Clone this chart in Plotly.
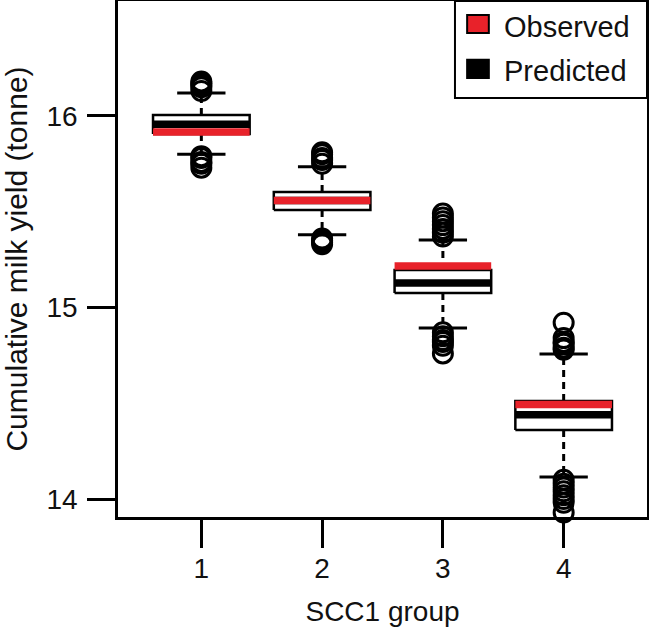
import plotly.graph_objects as go

# SCC1 groups on the x axis
groups = [1, 2, 3, 4]

# predicted distribution (box summary, tonne)
pred_lower = [15.800, 15.380, 14.893, 14.115]
pred_q1 = [15.905, 15.509, 15.076, 14.360]
pred_median = [15.956, 15.558, 15.128, 14.440]
pred_q3 = [16.005, 15.603, 15.196, 14.512]
pred_upper = [16.120, 15.734, 15.352, 14.757]

# observed value per group
observed = [15.916, 15.558, 15.217, 14.494]

# outlying predictions per group
outliers = [
    [16.13, 16.15, 16.16, 16.17, 16.18, 15.79, 15.78, 15.76, 15.75, 15.73],
    [15.75, 15.77, 15.78, 15.80, 15.81, 15.36, 15.35, 15.34, 15.33],
    [15.49, 15.47, 15.45, 15.43, 15.41, 15.39, 15.37,
     14.87, 14.85, 14.83, 14.82, 14.80, 14.76],
    [14.92, 14.84, 14.82, 14.81, 14.79, 14.78,
     14.10, 14.08, 14.06, 14.04, 14.02, 14.00, 13.98, 13.93],
]

RED = "#e8222a"
FONT = "Liberation Sans, Arial, Helvetica, sans-serif"
half = 0.4     # half box width
staple = 0.2   # half staple width

# build the line pieces from the summary arrays
box_x, box_y = [], []
med_x, med_y = [], []
obs_x, obs_y = [], []
wh_x, wh_y = [], []
st_x, st_y = [], []
out_x, out_y = [], []
for i, g in enumerate(groups):
    box_x += [g - half, g + half, g + half, g - half, g - half, None]
    box_y += [pred_q1[i], pred_q1[i], pred_q3[i], pred_q3[i], pred_q1[i], None]
    med_x += [g - half, g + half, None]
    med_y += [pred_median[i], pred_median[i], None]
    obs_x += [g - half, g + half, None]
    obs_y += [observed[i], observed[i], None]
    wh_x += [g, g, None, g, g, None]
    wh_y += [pred_q3[i], pred_upper[i], None, pred_q1[i], pred_lower[i], None]
    st_x += [g - staple, g + staple, None, g - staple, g + staple, None]
    st_y += [pred_upper[i], pred_upper[i], None, pred_lower[i], pred_lower[i], None]
    out_x += [g] * len(outliers[i])
    out_y += outliers[i]

fig = go.Figure()
fig.add_trace(go.Scatter(x=wh_x, y=wh_y, mode="lines",
                         line=dict(color="black", width=3, dash="7px,5px")))
fig.add_trace(go.Scatter(x=st_x, y=st_y, mode="lines",
                         line=dict(color="black", width=3)))
fig.add_trace(go.Scatter(x=box_x, y=box_y, mode="lines", fill="toself",
                         fillcolor="white", line=dict(color="black", width=2.5)))
fig.add_trace(go.Scatter(x=out_x, y=out_y, mode="markers", cliponaxis=False,
                         marker=dict(symbol="circle-open", size=19, color="black",
                                     line=dict(width=3))))
fig.add_trace(go.Scatter(x=med_x, y=med_y, mode="lines",
                         line=dict(color="black", width=7.5)))
fig.add_trace(go.Scatter(x=obs_x, y=obs_y, mode="lines",
                         line=dict(color=RED, width=7.5)))

axis_style = dict(showline=True, mirror=True, linecolor="black", linewidth=2.5,
                  ticks="outside", ticklen=28, tickwidth=2.5, tickcolor="black",
                  showgrid=False, zeroline=False, automargin=False,
                  tickfont=dict(size=28, color="#111", family=FONT))

fig.update_xaxes(range=[0.31, 4.69], tickvals=groups, ticktext=[str(g) for g in groups],
                 ticklabelstandoff=-3,
                 title=dict(text="SCC1 group", font=dict(size=28, color="#111", family=FONT),
                            standoff=19),
                 **axis_style)
fig.update_yaxes(range=[13.906, 16.600], tickvals=[14, 15, 16], ticklabelstandoff=4,
                 title=dict(text="Cumulative milk yield (tonne)",
                            font=dict(size=30, color="#111", family=FONT), standoff=12),
                 **axis_style)

# legend box drawn in the top right corner
fig.add_shape(type="rect", xref="paper", yref="paper", x0=0.637, x1=1.0, y0=0.812, y1=1.0,
              line=dict(color="black", width=2), fillcolor="white", layer="above")
fig.add_shape(type="rect", xref="paper", yref="paper", x0=0.660, x1=0.701, y0=0.938, y1=0.973,
              line=dict(color="black", width=2), fillcolor=RED, layer="above")
fig.add_shape(type="rect", xref="paper", yref="paper", x0=0.660, x1=0.701, y0=0.851, y1=0.886,
              line=dict(color="black", width=2), fillcolor="black", layer="above")
for label, yy in [("Observed", 0.950), ("Predicted", 0.864)]:
    fig.add_annotation(x=0.726, y=yy, xref="paper", yref="paper", text=label,
                       showarrow=False, xanchor="left", yanchor="middle",
                       font=dict(size=29, color="#111", family=FONT))

fig.update_layout(width=649, height=631, showlegend=False,
                  margin=dict(l=118, r=2, t=1, b=114),
                  plot_bgcolor="white", paper_bgcolor="white",
                  font=dict(family=FONT, color="#111"))

# page body has a default 8px margin; drop it so the figure sits at the corner
fig.write_html("out.html", config={"displayModeBar": False},
               post_script="document.body.style.margin='0';")
